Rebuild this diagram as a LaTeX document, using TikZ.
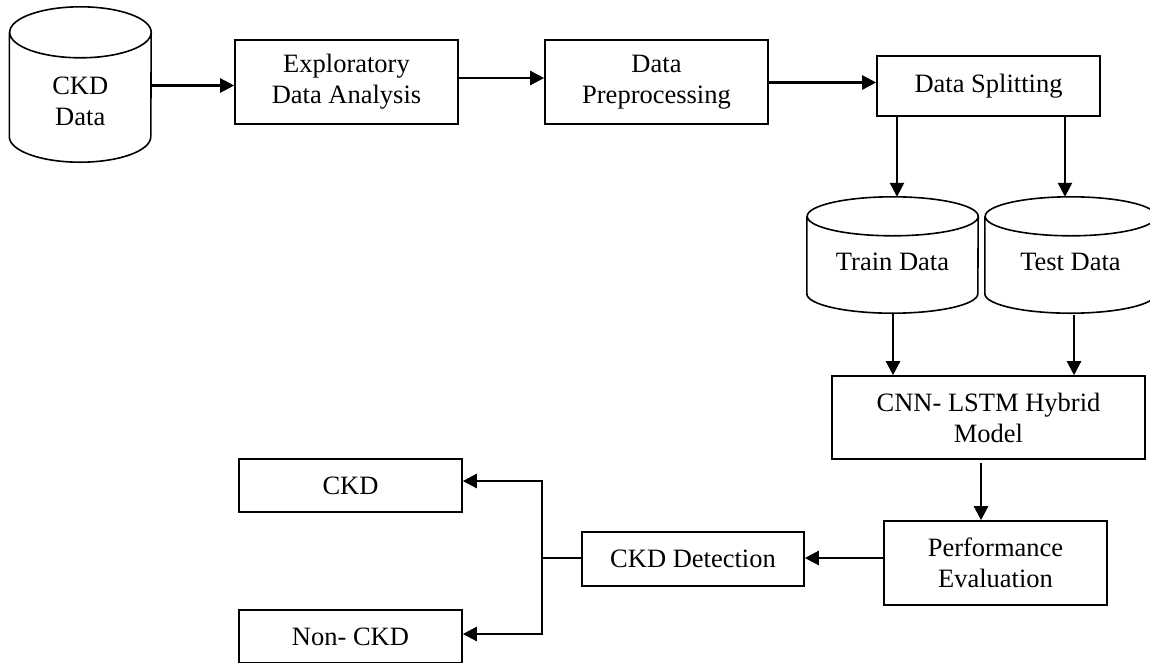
\documentclass[tikz,border=0pt]{standalone}
\usepackage{fontspec}
\setmainfont{Liberation Serif}
\usetikzlibrary{arrows.meta}
\newcommand\mycyl[3]{%
  \draw[line width=1.6pt, fill=white]
    ([yshift=-#3]#1.north west) -- ([yshift=#3]#1.south west)
    arc[start angle=180, end angle=360, x radius=#2pt, y radius=#3pt]
    -- ([yshift=-#3]#1.north east)
    arc[start angle=0, end angle=360, x radius=#2pt, y radius=#3pt];}
\begin{document}
\begin{tikzpicture}[x=1pt, y=-1pt,
  lbl/.style={font=\fontsize{26.5}{31}\selectfont, align=center},
  box/.style={lbl, draw, line width=1.6pt, fill=white, inner sep=0pt},
  cylbox/.style={inner sep=0pt},
  txt/.style={lbl, inner sep=0pt},
  arr/.style={line width=2.4pt, -{Triangle[length=14pt, width=14pt]}},
  link/.style={line width=2.4pt}]
\useasboundingbox[fill=white] (0,0) rectangle (1150,662);

% cylinders
\node[cylbox, minimum width=141.5, minimum height=155] (ckd) at (80.25,84.5) {};
\mycyl{ckd}{70.75}{25.5}
\node[txt] (ckdtxt) at (80.25,101) {CKD\\Data};

\node[cylbox, minimum width=171, minimum height=116] (train) at (892.5,255) {};
\mycyl{train}{85.5}{19.5}
\node[txt] (traintxt) at (892.5,262) {Train Data};

\node[cylbox, minimum width=171, minimum height=116] (test) at (1070.5,255) {};
\mycyl{test}{85.5}{19.5}
\node[txt] (testtxt) at (1070.5,262) {Test Data};

% boxes
\node[box, minimum width=223, minimum height=84] (eda) at (346.5,82) {Exploratory\\Data Analysis};
\node[box, minimum width=223, minimum height=84] (pre) at (656.5,82) {Data\\Preprocessing};
\node[box, minimum width=223, minimum height=60] (split) at (988.5,86) {Data Splitting};
\node[box, minimum width=313, minimum height=83] (cnn) at (988.5,417.5) {CNN- LSTM Hybrid\\Model};
\node[box, minimum width=223, minimum height=84] (perf) at (995.5,563) {Performance\\Evaluation};
\node[box, minimum width=222, minimum height=54] (det) at (693,559) {CKD Detection};
\node[box, minimum width=223, minimum height=53] (ckdbox) at (350.5,485.5) {CKD};
\node[box, minimum width=223, minimum height=53] (non) at (350.5,636.5) {Non- CKD};

% connectors
\draw[arr] (ckd.east |- 0,85.5) -- (eda.west |- 0,85.5);
\draw[arr] (eda.east |- 0,78) -- (pre.west |- 0,78);
\draw[arr] (pre.east |- 0,82.5) -- (split.west |- 0,82.5);
\draw[arr] (split.south -| 897,0) -- (train.north -| 897,0);
\draw[arr] (split.south -| 1065,0) -- (test.north -| 1065,0);
\draw[arr] (train.south -| 893,0) -- (cnn.north -| 893,0);
\draw[arr] ([yshift=-2]test.south -| 1074,0) -- (cnn.north -| 1074,0);
\draw[arr] ([yshift=-3]cnn.south -| 981,0) -- (perf.north -| 981,0);
\draw[arr] (perf.west |- 0,558) -- (det.east |- 0,558);
\coordinate (junc) at (542,558);
\draw[link] (det.west |- junc) -- (junc);
\draw[arr] (junc) -- (junc |- 0,481) -- (ckdbox.east |- 0,481);
\draw[arr] (junc) -- (junc |- 0,634) -- (non.east |- 0,634);
\end{tikzpicture}
\end{document}
